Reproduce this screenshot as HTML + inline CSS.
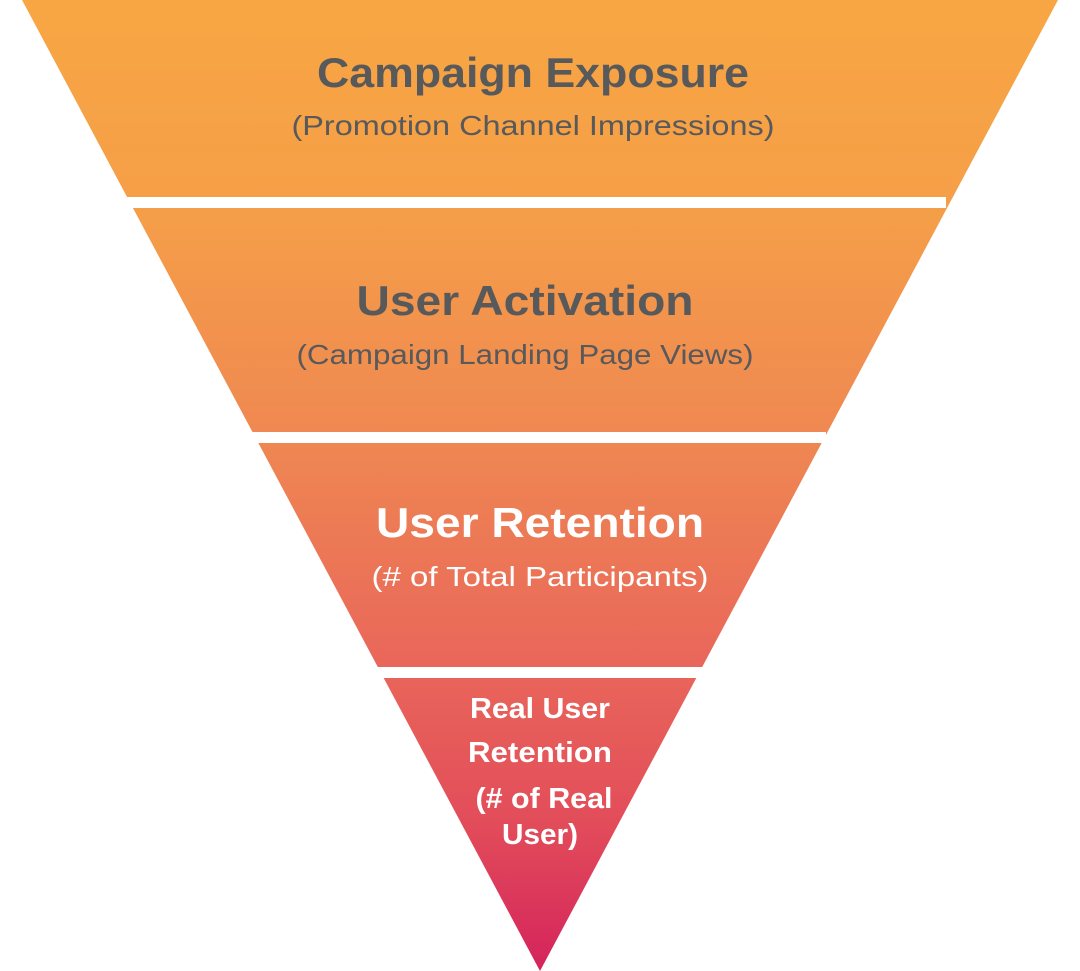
<!DOCTYPE html>
<html><head><meta charset="utf-8"><style>
html,body{margin:0;padding:0;background:#fff;width:1080px;height:971px;overflow:hidden}
svg{display:block}
text{font-family:"Liberation Sans",sans-serif;text-anchor:middle}
</style></head><body>
<svg width="1080" height="971" viewBox="0 0 1080 971">
<defs>
<linearGradient id="g" x1="0" y1="0" x2="0" y2="971" gradientUnits="userSpaceOnUse">
<stop offset="0" stop-color="#F8A643"/>
<stop offset="0.22" stop-color="#F59E48"/>
<stop offset="0.45" stop-color="#EF8852"/>
<stop offset="0.68" stop-color="#E9675A"/>
<stop offset="0.85" stop-color="#E24C5A"/>
<stop offset="1" stop-color="#D4235C"/>
</linearGradient>
</defs>
<polygon points="22,0 1058,0 540,971" fill="url(#g)"/>
<rect x="0" y="197" width="946" height="11" fill="#fff"/>
<rect x="0" y="432" width="826" height="11" fill="#fff"/>
<rect x="0" y="667" width="704" height="11" fill="#fff"/>
<g fill="#58595B" font-weight="bold">
<text x="533" y="87" font-size="42" textLength="432" lengthAdjust="spacingAndGlyphs">Campaign Exposure</text>
<text x="525" y="315" font-size="42" textLength="337" lengthAdjust="spacingAndGlyphs">User Activation</text>
</g>
<g fill="#58595B">
<text x="533" y="135" font-size="28" textLength="483" lengthAdjust="spacingAndGlyphs">(Promotion Channel Impressions)</text>
<text x="525" y="364" font-size="28" textLength="457" lengthAdjust="spacingAndGlyphs">(Campaign Landing Page Views)</text>
</g>
<g fill="#fff" font-weight="bold">
<text x="540" y="537" font-size="42" textLength="328" lengthAdjust="spacingAndGlyphs">User Retention</text>
<text x="540" y="586" font-size="28" font-weight="normal" textLength="337" lengthAdjust="spacingAndGlyphs">(# of Total Participants)</text>
<text x="540" y="718" font-size="29" textLength="140" lengthAdjust="spacingAndGlyphs">Real User</text>
<text x="540" y="762" font-size="29" textLength="144" lengthAdjust="spacingAndGlyphs">Retention</text>
<text x="544" y="808" font-size="29" textLength="137" lengthAdjust="spacingAndGlyphs">(# of Real</text>
<text x="540" y="844" font-size="29" textLength="76" lengthAdjust="spacingAndGlyphs">User)</text>
</g>
</svg>
</body></html>
